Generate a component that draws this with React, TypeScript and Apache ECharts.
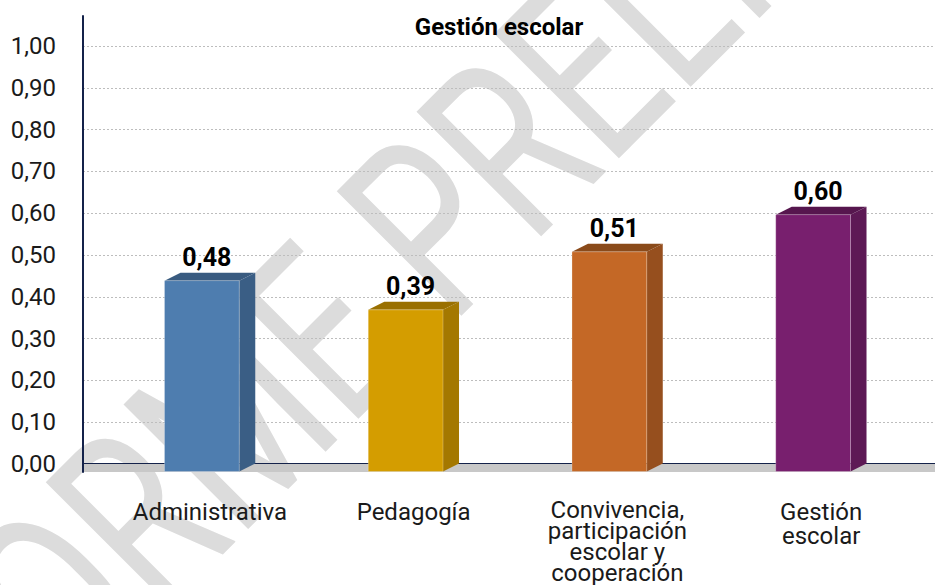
import { useEffect, useRef } from "react";
import * as echarts from "echarts";

const chartTitle = "Gestión escolar";
const categories = [
  "Administrativa",
  "Pedagogía",
  "Convivencia,\nparticipación\nescolar y\ncooperación",
  "Gestión\nescolar",
];
const barHeights = [0.438, 0.368, 0.507, 0.596];
const valueLabels = ["0,48", "0,39", "0,51", "0,60"];
const yMin = 0;
const yMax = 1;
const yStep = 0.1;
const watermarkText = "INFORME PRELIMINAR";

const labelLineHeights = [24, 24, 21, 24];
const frontColors = ["#4e7daf", "#d49d00", "#c46826", "#781f6e"];
const sideColors = ["#3a5e85", "#a47800", "#964f1e", "#5d1955"];
const topColors = ["#395b80", "#9a7000", "#8a4a1a", "#56164e"];

const FONT = "Roboto";
const NAVY = "#14224a";

export default function App() {
  const ref = useRef<HTMLDivElement>(null);

  useEffect(() => {
    if (!ref.current) return;
    const chart = echarts.init(ref.current, null, { renderer: "svg" });

    const fmt = (v: number) => v.toFixed(2).replace(".", ",");

    const option: any = {
      animation: false,
      backgroundColor: "#ffffff",
      title: {
        text: chartTitle,
        left: 494,
        top: 10,
        textAlign: "center",
        textStyle: { fontFamily: FONT, fontSize: 24, fontWeight: "bold", color: "#000" },
      },
      graphic: [
        {
          type: "text",
          x: 469,
          y: 189,
          rotation: Math.PI / 4,
          scaleX: 0.72,
          z: -10,
          silent: true,
          style: {
            text: watermarkText,
            fontSize: 248,
            fontFamily: FONT,
            fontWeight: "normal",
            fill: "#dcdcdc",
            align: "center",
            verticalAlign: "middle",
          },
        },
      ],
      grid: [
        { left: 83, right: 0, top: 46, bottom: 121 },
        { left: 100, right: 20, top: 46, bottom: 121 },
        { left: 83, right: 0, top: 16, bottom: 113 },
      ],
      xAxis: [
        {
          gridIndex: 0,
          type: "value",
          min: 0,
          max: 1,
          offset: 8,
          axisLine: { show: true, lineStyle: { color: NAVY, width: 2 } },
          axisTick: { show: false },
          axisLabel: { show: false },
          splitLine: { show: false },
        },
        {
          gridIndex: 1,
          type: "category",
          data: categories.map((c, i) => ({
            value: c,
            textStyle: { lineHeight: labelLineHeights[i] },
          })),
          axisLine: { show: false },
          axisTick: { show: false },
          axisLabel: {
            interval: 0,
            margin: 36,
            fontFamily: FONT,
            fontSize: 24,
            color: "#1a1a1a",
            padding: [0, 0, 0, 16],
          },
        },
        {
          gridIndex: 2,
          type: "value",
          show: false,
          min: 0,
          max: 1,
        },
      ],
      yAxis: [
        {
          gridIndex: 0,
          type: "value",
          min: yMin,
          max: yMax,
          interval: yStep,
          axisLine: { show: false },
          axisTick: { show: false },
          axisLabel: {
            margin: 27,
            fontFamily: FONT,
            fontSize: 24,
            color: "#1a1a1a",
            formatter: (v: number) => fmt(v),
          },
          splitLine: { show: true, lineStyle: { color: "#bdbdbd", type: [2, 2], width: 1 } },
        },
        {
          gridIndex: 1,
          type: "value",
          min: yMin,
          max: yMax,
          show: false,
        },
        {
          gridIndex: 2,
          type: "value",
          min: 0,
          max: 1,
          axisLine: { show: true, lineStyle: { color: NAVY, width: 2 } },
          axisTick: { show: false },
          axisLabel: { show: false },
          splitLine: { show: false },
        },
      ],
      series: [
        {
          type: "custom",
          xAxisIndex: 0,
          yAxisIndex: 0,
          z: 1,
          silent: true,
          data: [[0, 1]],
          renderItem: (params: any, api: any) => {
            const a = api.coord([0, 0]);
            const b = api.coord([1, 0]);
            return {
              type: "rect",
              shape: { x: a[0] + 1, y: a[1], width: b[0] - a[0], height: 8 },
              style: { fill: "#c8c8c8" },
            };
          },
        },
        {
          type: "custom",
          xAxisIndex: 1,
          yAxisIndex: 1,
          z: 5,
          data: barHeights.map((h, i) => [i, h]),
          renderItem: (params: any, api: any) => {
            const i = params.dataIndex;
            const idx = api.value(0);
            const v = api.value(1);
            const base = api.coord([idx, 0]);
            const topPt = api.coord([idx, v]);
            const band = api.size([1, 0])[0];
            const w = band * 0.367;
            const dx = 16;
            const dy = 8;
            const left = base[0] - w / 2;
            const right = base[0] + w / 2;
            const yBottom = base[1] + dy;
            const yTop = topPt[1];
            return {
              type: "group",
              children: [
                {
                  type: "polygon",
                  shape: {
                    points: [
                      [right, yTop],
                      [right + dx, yTop - dy],
                      [right + dx, yBottom - dy],
                      [right, yBottom],
                    ],
                  },
                  style: { fill: sideColors[i] },
                },
                {
                  type: "polygon",
                  shape: {
                    points: [
                      [left, yTop],
                      [left + dx, yTop - dy],
                      [right + dx, yTop - dy],
                      [right, yTop],
                    ],
                  },
                  style: { fill: topColors[i] },
                },
                {
                  type: "rect",
                  shape: { x: left, y: yTop, width: w, height: yBottom - yTop },
                  style: { fill: frontColors[i], stroke: "rgba(255,255,255,0.25)", lineWidth: 1 },
                },
                {
                  type: "text",
                  x: base[0] + 5,
                  y: yTop - dy - 3,
                  style: {
                    text: valueLabels[i],
                    fontFamily: FONT,
                    fontSize: 25,
                    fontWeight: "bold",
                    fill: "#000",
                    align: "center",
                    verticalAlign: "bottom",
                  },
                },
              ],
            };
          },
        },
      ],
    };

    chart.setOption(option);
    return () => chart.dispose();
  }, []);

  return (
    <div
      ref={ref}
      style={{ position: "absolute", left: 0, top: 0, width: 935, height: 585 }}
    />
  );
}
